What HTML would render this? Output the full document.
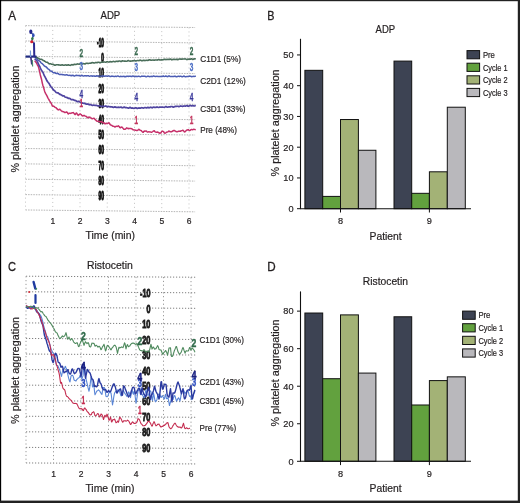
<!DOCTYPE html>
<html><head><meta charset="utf-8"><style>
html,body{margin:0;padding:0;background:#fff;width:520px;height:503px;overflow:hidden}
svg{display:block;will-change:transform;font-family:"Liberation Sans", sans-serif}
</style></head><body>
<svg width="520" height="503" viewBox="0 0 520 503" font-family='"Liberation Sans", sans-serif'>
<rect x="0" y="0" width="520" height="503" fill="#fff"/>
<text x="8.30" y="19.70" font-size="12.9" textLength="7.80" lengthAdjust="spacingAndGlyphs" fill="#231f20" stroke="#231f20" stroke-width="0.3">A</text>
<text x="267.30" y="19.70" font-size="12.9" textLength="7.20" lengthAdjust="spacingAndGlyphs" fill="#231f20" stroke="#231f20" stroke-width="0.3">B</text>
<text x="7.90" y="270.70" font-size="12.9" textLength="8.00" lengthAdjust="spacingAndGlyphs" fill="#231f20" stroke="#231f20" stroke-width="0.3">C</text>
<text x="267.20" y="270.60" font-size="12.4" textLength="8.40" lengthAdjust="spacingAndGlyphs" fill="#231f20" stroke="#231f20" stroke-width="0.3">D</text>
<text x="100.50" y="18.50" font-size="10.5" textLength="19.80" lengthAdjust="spacingAndGlyphs" fill="#231f20" stroke="#231f20" stroke-width="0.2">ADP</text>
<text x="375.60" y="32.50" font-size="10.5" textLength="19.60" lengthAdjust="spacingAndGlyphs" fill="#231f20" stroke="#231f20" stroke-width="0.2">ADP</text>
<text x="86.90" y="268.80" font-size="10.5" textLength="45.90" lengthAdjust="spacingAndGlyphs" fill="#231f20" stroke="#231f20" stroke-width="0.2">Ristocetin</text>
<text x="362.80" y="284.90" font-size="10.5" textLength="45.20" lengthAdjust="spacingAndGlyphs" fill="#231f20" stroke="#231f20" stroke-width="0.2">Ristocetin</text>
<line x1="25.50" y1="25.64" x2="195.10" y2="27.51" stroke="#b6b6b6" stroke-width="1.0" stroke-dasharray="1.5 1.1"/>
<line x1="25.50" y1="41.00" x2="195.10" y2="42.87" stroke="#b6b6b6" stroke-width="1.0" stroke-dasharray="1.5 1.1"/>
<line x1="25.50" y1="56.36" x2="195.10" y2="58.23" stroke="#b6b6b6" stroke-width="1.0" stroke-dasharray="1.5 1.1"/>
<line x1="25.50" y1="71.72" x2="195.10" y2="73.59" stroke="#b6b6b6" stroke-width="1.0" stroke-dasharray="1.5 1.1"/>
<line x1="25.50" y1="87.08" x2="195.10" y2="88.95" stroke="#b6b6b6" stroke-width="1.0" stroke-dasharray="1.5 1.1"/>
<line x1="25.50" y1="102.44" x2="195.10" y2="104.31" stroke="#b6b6b6" stroke-width="1.0" stroke-dasharray="1.5 1.1"/>
<line x1="25.50" y1="117.80" x2="195.10" y2="119.67" stroke="#b6b6b6" stroke-width="1.0" stroke-dasharray="1.5 1.1"/>
<line x1="25.50" y1="133.16" x2="195.10" y2="135.03" stroke="#b6b6b6" stroke-width="1.0" stroke-dasharray="1.5 1.1"/>
<line x1="25.50" y1="148.52" x2="195.10" y2="150.39" stroke="#b6b6b6" stroke-width="1.0" stroke-dasharray="1.5 1.1"/>
<line x1="25.50" y1="163.88" x2="195.10" y2="165.75" stroke="#b6b6b6" stroke-width="1.0" stroke-dasharray="1.5 1.1"/>
<line x1="25.50" y1="179.24" x2="195.10" y2="181.11" stroke="#b6b6b6" stroke-width="1.0" stroke-dasharray="1.5 1.1"/>
<line x1="25.50" y1="194.60" x2="195.10" y2="196.47" stroke="#b6b6b6" stroke-width="1.0" stroke-dasharray="1.5 1.1"/>
<line x1="25.50" y1="209.96" x2="195.10" y2="211.83" stroke="#b6b6b6" stroke-width="1.0" stroke-dasharray="1.5 1.1"/>
<line x1="25.50" y1="25.64" x2="25.50" y2="209.96" stroke="#c2c2c2" stroke-width="1.0" stroke-dasharray="1 3"/>
<line x1="52.75" y1="25.94" x2="52.75" y2="210.26" stroke="#c2c2c2" stroke-width="1.0" stroke-dasharray="1 3"/>
<line x1="80.00" y1="26.24" x2="80.00" y2="210.56" stroke="#c2c2c2" stroke-width="1.0" stroke-dasharray="1 3"/>
<line x1="107.25" y1="26.54" x2="107.25" y2="210.86" stroke="#c2c2c2" stroke-width="1.0" stroke-dasharray="1 3"/>
<line x1="134.50" y1="26.84" x2="134.50" y2="211.16" stroke="#c2c2c2" stroke-width="1.0" stroke-dasharray="1 3"/>
<line x1="161.75" y1="27.14" x2="161.75" y2="211.46" stroke="#c2c2c2" stroke-width="1.0" stroke-dasharray="1 3"/>
<line x1="189.00" y1="27.44" x2="189.00" y2="211.76" stroke="#c2c2c2" stroke-width="1.0" stroke-dasharray="1 3"/>
<text x="103.90" y="46.71" font-size="12.0" font-weight="bold" text-anchor="end" textLength="6.80" lengthAdjust="spacingAndGlyphs" fill="#111" stroke="#111" stroke-width="1.2">-10</text>
<text x="103.90" y="62.07" font-size="12.0" font-weight="bold" text-anchor="end" textLength="2.60" lengthAdjust="spacingAndGlyphs" fill="#111" stroke="#111" stroke-width="1.2">0</text>
<text x="103.90" y="77.43" font-size="12.0" font-weight="bold" text-anchor="end" textLength="5.40" lengthAdjust="spacingAndGlyphs" fill="#111" stroke="#111" stroke-width="1.2">10</text>
<text x="103.90" y="92.79" font-size="12.0" font-weight="bold" text-anchor="end" textLength="5.40" lengthAdjust="spacingAndGlyphs" fill="#111" stroke="#111" stroke-width="1.2">20</text>
<text x="103.90" y="108.15" font-size="12.0" font-weight="bold" text-anchor="end" textLength="5.40" lengthAdjust="spacingAndGlyphs" fill="#111" stroke="#111" stroke-width="1.2">30</text>
<text x="103.90" y="123.51" font-size="12.0" font-weight="bold" text-anchor="end" textLength="5.40" lengthAdjust="spacingAndGlyphs" fill="#111" stroke="#111" stroke-width="1.2">40</text>
<text x="103.90" y="138.87" font-size="12.0" font-weight="bold" text-anchor="end" textLength="5.40" lengthAdjust="spacingAndGlyphs" fill="#111" stroke="#111" stroke-width="1.2">50</text>
<text x="103.90" y="154.23" font-size="12.0" font-weight="bold" text-anchor="end" textLength="5.40" lengthAdjust="spacingAndGlyphs" fill="#111" stroke="#111" stroke-width="1.2">60</text>
<text x="103.90" y="169.59" font-size="12.0" font-weight="bold" text-anchor="end" textLength="5.40" lengthAdjust="spacingAndGlyphs" fill="#111" stroke="#111" stroke-width="1.2">70</text>
<text x="103.90" y="184.95" font-size="12.0" font-weight="bold" text-anchor="end" textLength="5.40" lengthAdjust="spacingAndGlyphs" fill="#111" stroke="#111" stroke-width="1.2">80</text>
<text x="103.90" y="200.31" font-size="12.0" font-weight="bold" text-anchor="end" textLength="5.40" lengthAdjust="spacingAndGlyphs" fill="#111" stroke="#111" stroke-width="1.2">90</text>
<line x1="26.00" y1="276.22" x2="195.50" y2="277.23" stroke="#808080" stroke-width="1.0" stroke-dasharray="1.2 1.8"/>
<line x1="26.00" y1="291.78" x2="195.50" y2="292.79" stroke="#808080" stroke-width="1.0" stroke-dasharray="1.2 1.8"/>
<line x1="26.00" y1="307.34" x2="195.50" y2="308.35" stroke="#808080" stroke-width="1.0" stroke-dasharray="1.2 1.8"/>
<line x1="26.00" y1="322.90" x2="195.50" y2="323.91" stroke="#808080" stroke-width="1.0" stroke-dasharray="1.2 1.8"/>
<line x1="26.00" y1="338.46" x2="195.50" y2="339.47" stroke="#808080" stroke-width="1.0" stroke-dasharray="1.2 1.8"/>
<line x1="26.00" y1="354.02" x2="195.50" y2="355.03" stroke="#808080" stroke-width="1.0" stroke-dasharray="1.2 1.8"/>
<line x1="26.00" y1="369.58" x2="195.50" y2="370.59" stroke="#808080" stroke-width="1.0" stroke-dasharray="1.2 1.8"/>
<line x1="26.00" y1="385.14" x2="195.50" y2="386.15" stroke="#808080" stroke-width="1.0" stroke-dasharray="1.2 1.8"/>
<line x1="26.00" y1="400.70" x2="195.50" y2="401.71" stroke="#808080" stroke-width="1.0" stroke-dasharray="1.2 1.8"/>
<line x1="26.00" y1="416.26" x2="195.50" y2="417.27" stroke="#808080" stroke-width="1.0" stroke-dasharray="1.2 1.8"/>
<line x1="26.00" y1="431.82" x2="195.50" y2="432.83" stroke="#808080" stroke-width="1.0" stroke-dasharray="1.2 1.8"/>
<line x1="26.00" y1="447.38" x2="195.50" y2="448.39" stroke="#808080" stroke-width="1.0" stroke-dasharray="1.2 1.8"/>
<line x1="26.00" y1="462.94" x2="195.50" y2="463.95" stroke="#808080" stroke-width="1.0" stroke-dasharray="1.2 1.8"/>
<line x1="26.00" y1="276.22" x2="26.00" y2="462.94" stroke="#9a9a9a" stroke-width="1.0" stroke-dasharray="1.2 2.6"/>
<line x1="53.50" y1="276.38" x2="53.50" y2="463.10" stroke="#9a9a9a" stroke-width="1.0" stroke-dasharray="1.2 2.6"/>
<line x1="81.00" y1="276.55" x2="81.00" y2="463.27" stroke="#9a9a9a" stroke-width="1.0" stroke-dasharray="1.2 2.6"/>
<line x1="108.50" y1="276.71" x2="108.50" y2="463.43" stroke="#9a9a9a" stroke-width="1.0" stroke-dasharray="1.2 2.6"/>
<line x1="136.00" y1="276.88" x2="136.00" y2="463.60" stroke="#9a9a9a" stroke-width="1.0" stroke-dasharray="1.2 2.6"/>
<line x1="163.50" y1="277.04" x2="163.50" y2="463.76" stroke="#9a9a9a" stroke-width="1.0" stroke-dasharray="1.2 2.6"/>
<line x1="191.00" y1="277.21" x2="191.00" y2="463.93" stroke="#9a9a9a" stroke-width="1.0" stroke-dasharray="1.2 2.6"/>
<text x="150.40" y="297.47" font-size="10.8" font-weight="bold" text-anchor="end" textLength="10.40" lengthAdjust="spacingAndGlyphs" fill="#1a1a1a" stroke="#1a1a1a" stroke-width="0.9">-10</text>
<text x="150.40" y="312.89" font-size="10.8" font-weight="bold" text-anchor="end" textLength="4.00" lengthAdjust="spacingAndGlyphs" fill="#1a1a1a" stroke="#1a1a1a" stroke-width="0.9">0</text>
<text x="150.40" y="328.31" font-size="10.8" font-weight="bold" text-anchor="end" textLength="8.20" lengthAdjust="spacingAndGlyphs" fill="#1a1a1a" stroke="#1a1a1a" stroke-width="0.9">10</text>
<text x="150.40" y="343.73" font-size="10.8" font-weight="bold" text-anchor="end" textLength="8.20" lengthAdjust="spacingAndGlyphs" fill="#1a1a1a" stroke="#1a1a1a" stroke-width="0.9">20</text>
<text x="150.40" y="359.15" font-size="10.8" font-weight="bold" text-anchor="end" textLength="8.20" lengthAdjust="spacingAndGlyphs" fill="#1a1a1a" stroke="#1a1a1a" stroke-width="0.9">30</text>
<text x="150.40" y="374.57" font-size="10.8" font-weight="bold" text-anchor="end" textLength="8.20" lengthAdjust="spacingAndGlyphs" fill="#1a1a1a" stroke="#1a1a1a" stroke-width="0.9">40</text>
<text x="150.40" y="389.99" font-size="10.8" font-weight="bold" text-anchor="end" textLength="8.20" lengthAdjust="spacingAndGlyphs" fill="#1a1a1a" stroke="#1a1a1a" stroke-width="0.9">50</text>
<text x="150.40" y="405.41" font-size="10.8" font-weight="bold" text-anchor="end" textLength="8.20" lengthAdjust="spacingAndGlyphs" fill="#1a1a1a" stroke="#1a1a1a" stroke-width="0.9">60</text>
<text x="150.40" y="420.83" font-size="10.8" font-weight="bold" text-anchor="end" textLength="8.20" lengthAdjust="spacingAndGlyphs" fill="#1a1a1a" stroke="#1a1a1a" stroke-width="0.9">70</text>
<text x="150.40" y="436.25" font-size="10.8" font-weight="bold" text-anchor="end" textLength="8.20" lengthAdjust="spacingAndGlyphs" fill="#1a1a1a" stroke="#1a1a1a" stroke-width="0.9">80</text>
<text x="150.40" y="451.67" font-size="10.8" font-weight="bold" text-anchor="end" textLength="8.20" lengthAdjust="spacingAndGlyphs" fill="#1a1a1a" stroke="#1a1a1a" stroke-width="0.9">90</text>
<path d="M34.80,60.55 L35.30,61.47 L35.80,62.09 L36.30,62.70 L36.80,63.51 L37.30,64.75 L37.80,65.76 L38.30,66.31 L38.80,68.09 L39.30,70.21 L39.80,72.41 L40.30,74.90 L40.80,76.69 L41.30,78.45 L41.80,80.66 L42.30,83.09 L42.80,85.16 L43.30,86.60 L43.80,88.16 L44.30,90.13 L44.80,91.75 L45.30,92.94 L45.80,93.91 L46.30,94.65 L46.80,95.53 L47.30,96.55 L47.80,97.61 L48.30,98.54 L48.80,99.33 L49.30,100.42 L49.80,101.19 L50.30,101.91 L50.80,102.64 L51.30,103.53 L51.80,104.54 L52.30,105.90 L52.80,106.21 L53.30,106.09 L53.80,106.28 L54.30,106.67 L54.80,107.14 L55.30,107.47 L55.80,107.64 L56.30,107.94 L56.80,108.61 L57.30,109.09 L57.80,109.67 L58.30,109.91 L58.80,109.72 L59.30,109.36 L59.80,109.17 L60.30,109.81 L60.80,110.32 L61.30,110.84 L61.80,111.10 L62.30,111.62 L62.80,111.58 L63.30,111.66 L63.80,111.83 L64.30,112.19 L64.80,112.54 L65.30,112.42 L65.80,112.32 L66.30,112.00 L66.80,111.88 L67.30,112.44 L67.80,113.33 L68.30,114.01 L68.80,113.39 L69.30,113.31 L69.80,113.29 L70.30,113.40 L70.80,113.25 L71.30,113.02 L71.80,112.88 L72.30,112.87 L72.80,112.87 L73.30,112.55 L73.80,113.12 L74.30,113.72 L74.80,114.44 L75.30,114.48 L75.80,113.70 L76.30,113.04 L76.80,113.29 L77.30,114.07 L77.80,115.01 L78.30,115.38 L78.80,114.81 L79.30,114.50 L79.80,114.04 L80.30,113.88 L80.80,114.28 L81.30,114.62 L81.80,115.43 L82.30,115.77 L82.80,115.92 L83.30,115.81 L83.80,115.46 L84.30,115.47 L84.80,115.82 L85.30,116.15 L85.80,116.30 L86.30,116.49 L86.80,116.92 L87.30,117.48 L87.80,117.81 L88.30,117.53 L88.80,117.09 L89.30,117.25 L89.80,117.10 L90.30,117.61 L90.80,117.84 L91.30,118.13 L91.80,118.59 L92.30,118.79 L92.80,118.65 L93.30,118.39 L93.80,118.22 L94.30,118.50 L94.80,119.16 L95.30,119.75 L95.80,120.04 L96.30,120.63 L96.80,121.09 L97.30,121.26 L97.80,121.38 L98.30,121.23 L98.80,121.28 L99.30,121.50 L99.80,121.78 L100.30,121.83 L100.80,121.53 L101.30,121.49 L101.80,121.91 L102.30,122.33 L102.80,122.78 L103.30,122.78 L103.80,122.72 L104.30,123.09 L104.80,123.67 L105.30,123.79 L105.80,123.48 L106.30,123.30 L106.80,123.42 L107.30,123.51 L107.80,123.43 L108.30,123.17 L108.80,122.65 L109.30,123.29 L109.80,123.99 L110.30,124.74 L110.80,125.06 L111.30,125.16 L111.80,125.44 L112.30,125.79 L112.80,126.23 L113.30,126.16 L113.80,126.39 L114.30,126.56 L114.80,127.02 L115.30,126.74 L115.80,126.52 L116.30,126.35 L116.80,126.36 L117.30,126.45 L117.80,126.11 L118.30,125.75 L118.80,126.23 L119.30,126.79 L119.80,127.48 L120.30,127.84 L120.80,127.38 L121.30,127.11 L121.80,126.97 L122.30,127.38 L122.80,128.06 L123.30,128.63 L123.80,129.23 L124.30,129.20 L124.80,129.20 L125.30,129.23 L125.80,128.86 L126.30,128.24 L126.80,127.82 L127.30,128.14 L127.80,128.43 L128.30,128.75 L128.80,128.44 L129.30,128.43 L129.80,128.38 L130.30,128.47 L130.80,128.60 L131.30,128.60 L131.80,128.74 L132.30,129.28 L132.80,129.55 L133.30,129.86 L133.80,129.90 L134.30,129.88 L134.80,129.89 L135.30,130.15 L135.80,130.20 L136.30,130.39 L136.80,130.45 L137.30,130.40 L137.80,130.31 L138.30,129.82 L138.80,129.34 L139.30,129.53 L139.80,130.05 L140.30,130.33 L140.80,130.42 L141.30,130.59 L141.80,131.20 L142.30,131.70 L142.80,132.17 L143.30,132.23 L143.80,131.54 L144.30,131.01 L144.80,131.17 L145.30,131.13 L145.80,130.95 L146.30,130.88 L146.80,131.56 L147.30,131.90 L147.80,132.13 L148.30,131.86 L148.80,131.67 L149.30,131.83 L149.80,131.90 L150.30,131.95 L150.80,132.12 L151.30,132.14 L151.80,132.14 L152.30,131.88 L152.80,131.51 L153.30,131.09 L153.80,130.82 L154.30,130.82 L154.80,131.46 L155.30,131.92 L155.80,132.09 L156.30,132.19 L156.80,132.27 L157.30,132.08 L157.80,132.07 L158.30,132.38 L158.80,132.76 L159.30,133.04 L159.80,133.21 L160.30,133.08 L160.80,133.03 L161.30,132.07 L161.80,131.30 L162.30,131.10 L162.80,131.28 L163.30,131.39 L163.80,132.00 L164.30,132.85 L164.80,133.26 L165.30,133.09 L165.80,132.79 L166.30,132.36 L166.80,132.09 L167.30,132.05 L167.80,131.83 L168.30,131.53 L168.80,131.11 L169.30,131.19 L169.80,131.51 L170.30,131.75 L170.80,131.84 L171.30,131.87 L171.80,131.52 L172.30,131.26 L172.80,130.98 L173.30,130.80 L173.80,130.46 L174.30,130.48 L174.80,130.71 L175.30,131.19 L175.80,131.45 L176.30,131.55 L176.80,131.80 L177.30,131.71 L177.80,131.61 L178.30,131.34 L178.80,131.22 L179.30,131.11 L179.80,131.26 L180.30,131.29 L180.80,131.04 L181.30,130.77 L181.80,130.62 L182.30,130.51 L182.80,130.30 L183.30,130.45 L183.80,131.12 L184.30,131.80 L184.80,131.89 L185.30,131.59 L185.80,130.91 L186.30,130.41 L186.80,130.09 L187.30,130.10 L187.80,129.78 L188.30,129.70 L188.80,130.09 L189.30,130.41 L189.80,130.40 L190.30,130.29 L190.80,129.78 L191.30,129.61 L191.80,129.56 L192.30,129.64 L192.80,129.66 L193.30,129.42 L193.80,129.26 L194.30,129.37 L194.80,129.52 L195.30,129.63 L195.80,129.52" fill="none" stroke="#c6306a" stroke-width="1.5" stroke-linejoin="round" opacity="1"/>
<path d="M34.80,58.70 L35.30,59.43 L35.80,59.65 L36.30,60.06 L36.80,60.48 L37.30,61.55 L37.80,62.53 L38.30,63.69 L38.80,64.74 L39.30,65.71 L39.80,66.53 L40.30,67.75 L40.80,68.87 L41.30,69.92 L41.80,70.67 L42.30,71.35 L42.80,72.18 L43.30,73.23 L43.80,74.46 L44.30,75.65 L44.80,76.52 L45.30,77.31 L45.80,78.50 L46.30,79.44 L46.80,80.54 L47.30,81.40 L47.80,81.96 L48.30,82.54 L48.80,83.06 L49.30,83.91 L49.80,85.01 L50.30,85.75 L50.80,86.47 L51.30,87.11 L51.80,87.61 L52.30,88.27 L52.80,89.11 L53.30,89.72 L53.80,90.23 L54.30,90.58 L54.80,90.89 L55.30,91.46 L55.80,92.07 L56.30,92.54 L56.80,92.69 L57.30,92.80 L57.80,92.73 L58.30,93.07 L58.80,93.51 L59.30,93.91 L59.80,94.44 L60.30,94.39 L60.80,94.62 L61.30,94.92 L61.80,95.28 L62.30,95.65 L62.80,95.87 L63.30,95.85 L63.80,95.83 L64.30,96.14 L64.80,96.79 L65.30,97.24 L65.80,97.27 L66.30,97.39 L66.80,97.54 L67.30,97.63 L67.80,97.87 L68.30,98.42 L68.80,98.37 L69.30,98.33 L69.80,98.41 L70.30,98.72 L70.80,99.13 L71.30,99.71 L71.80,99.73 L72.30,99.61 L72.80,99.47 L73.30,99.72 L73.80,99.99 L74.30,100.31 L74.80,100.41 L75.30,100.45 L75.80,100.59 L76.30,101.03 L76.80,101.43 L77.30,101.62 L77.80,101.61 L78.30,101.41 L78.80,101.33 L79.30,101.58 L79.80,101.87 L80.30,102.35 L80.80,102.50 L81.30,102.58 L81.80,102.67 L82.30,102.89 L82.80,103.24 L83.30,103.24 L83.80,103.39 L84.30,103.20 L84.80,103.38 L85.30,103.63 L85.80,104.03 L86.30,104.14 L86.80,104.15 L87.30,104.12 L87.80,103.92 L88.30,104.20 L88.80,104.48 L89.30,104.83 L89.80,104.56 L90.30,104.62 L90.80,104.79 L91.30,104.78 L91.80,105.23 L92.30,105.34 L92.80,105.30 L93.30,105.20 L93.80,105.02 L94.30,105.21 L94.80,105.32 L95.30,105.34 L95.80,105.31 L96.30,105.25 L96.80,105.42 L97.30,105.65 L97.80,105.91 L98.30,105.98 L98.80,105.80 L99.30,105.62 L99.80,105.73 L100.30,105.96 L100.80,106.36 L101.30,106.48 L101.80,106.49 L102.30,106.33 L102.80,106.18 L103.30,106.35 L103.80,106.39 L104.30,106.36 L104.80,106.28 L105.30,106.18 L105.80,105.96 L106.30,106.24 L106.80,106.65 L107.30,106.85 L107.80,106.66 L108.30,106.51 L108.80,106.41 L109.30,106.74 L109.80,106.75 L110.30,106.99 L110.80,106.72 L111.30,106.94 L111.80,106.94 L112.30,106.93 L112.80,107.26 L113.30,107.42 L113.80,107.37 L114.30,107.07 L114.80,106.93 L115.30,106.97 L115.80,107.14 L116.30,107.40 L116.80,107.29 L117.30,107.31 L117.80,107.36 L118.30,107.30 L118.80,107.18 L119.30,107.39 L119.80,107.24 L120.30,107.28 L120.80,107.12 L121.30,107.19 L121.80,107.63 L122.30,107.78 L122.80,107.68 L123.30,107.42 L123.80,107.17 L124.30,107.05 L124.80,107.38 L125.30,107.61 L125.80,107.49 L126.30,107.53 L126.80,107.68 L127.30,107.73 L127.80,108.02 L128.30,108.11 L128.80,108.15 L129.30,107.77 L129.80,107.43 L130.30,107.46 L130.80,107.87 L131.30,108.09 L131.80,108.22 L132.30,107.93 L132.80,107.98 L133.30,108.24 L133.80,108.28 L134.30,108.28 L134.80,108.15 L135.30,107.87 L135.80,107.71 L136.30,107.84 L136.80,108.17 L137.30,108.51 L137.80,108.33 L138.30,108.10 L138.80,107.93 L139.30,107.90 L139.80,108.13 L140.30,108.14 L140.80,108.10 L141.30,107.75 L141.80,107.72 L142.30,107.76 L142.80,108.00 L143.30,108.05 L143.80,107.93 L144.30,107.78 L144.80,107.59 L145.30,107.60 L145.80,107.77 L146.30,107.85 L146.80,107.84 L147.30,107.51 L147.80,107.37 L148.30,107.63 L148.80,107.84 L149.30,107.65 L149.80,107.58 L150.30,107.38 L150.80,107.15 L151.30,107.38 L151.80,107.64 L152.30,107.83 L152.80,107.50 L153.30,107.28 L153.80,107.11 L154.30,107.30 L154.80,107.34 L155.30,107.50 L155.80,107.43 L156.30,107.15 L156.80,107.02 L157.30,107.12 L157.80,107.20 L158.30,107.39 L158.80,107.52 L159.30,107.30 L159.80,106.98 L160.30,107.12 L160.80,107.27 L161.30,107.20 L161.80,107.03 L162.30,107.09 L162.80,107.14 L163.30,107.27 L163.80,107.27 L164.30,107.39 L164.80,107.27 L165.30,106.75 L165.80,106.54 L166.30,106.60 L166.80,106.91 L167.30,107.23 L167.80,107.17 L168.30,107.03 L168.80,106.88 L169.30,106.83 L169.80,106.95 L170.30,106.84 L170.80,106.64 L171.30,106.51 L171.80,106.52 L172.30,106.68 L172.80,106.95 L173.30,107.14 L173.80,106.89 L174.30,106.80 L174.80,106.58 L175.30,106.42 L175.80,106.36 L176.30,106.30 L176.80,106.31 L177.30,106.26 L177.80,106.23 L178.30,106.43 L178.80,106.56 L179.30,106.53 L179.80,106.26 L180.30,106.16 L180.80,105.96 L181.30,106.19 L181.80,106.25 L182.30,106.32 L182.80,106.34 L183.30,106.08 L183.80,106.16 L184.30,105.98 L184.80,105.97 L185.30,106.06 L185.80,106.09 L186.30,105.74 L186.80,105.63 L187.30,105.56 L187.80,106.07 L188.30,106.15 L188.80,106.17 L189.30,105.88 L189.80,105.55 L190.30,105.46 L190.80,105.57 L191.30,105.78 L191.80,105.81 L192.30,105.83 L192.80,105.58 L193.30,105.78 L193.80,105.99 L194.30,105.98 L194.80,105.85 L195.30,105.50 L195.80,105.37" fill="none" stroke="#4f44a0" stroke-width="1.7" stroke-linejoin="round" opacity="1"/>
<path d="M34.80,57.49 L35.30,57.81 L35.80,58.05 L36.30,58.02 L36.80,58.28 L37.30,58.84 L37.80,59.66 L38.30,60.31 L38.80,60.74 L39.30,60.91 L39.80,61.23 L40.30,61.74 L40.80,62.44 L41.30,63.01 L41.80,63.34 L42.30,63.72 L42.80,64.21 L43.30,64.74 L43.80,65.35 L44.30,65.88 L44.80,66.30 L45.30,66.50 L45.80,66.62 L46.30,67.09 L46.80,67.62 L47.30,68.13 L47.80,68.70 L48.30,69.06 L48.80,69.31 L49.30,69.81 L49.80,70.42 L50.30,70.82 L50.80,71.07 L51.30,71.25 L51.80,71.26 L52.30,71.71 L52.80,72.29 L53.30,72.73 L53.80,72.77 L54.30,72.84 L54.80,72.77 L55.30,72.99 L55.80,73.27 L56.30,73.45 L56.80,73.39 L57.30,73.32 L57.80,73.49 L58.30,73.66 L58.80,74.09 L59.30,74.41 L59.80,74.42 L60.30,74.53 L60.80,74.37 L61.30,74.60 L61.80,74.54 L62.30,74.54 L62.80,74.77 L63.30,74.79 L63.80,74.75 L64.30,74.90 L64.80,74.95 L65.30,75.08 L65.80,74.96 L66.30,74.81 L66.80,74.83 L67.30,74.93 L67.80,75.22 L68.30,75.37 L68.80,75.39 L69.30,75.34 L69.80,75.26 L70.30,75.46 L70.80,75.49 L71.30,75.74 L71.80,75.50 L72.30,75.42 L72.80,75.25 L73.30,75.54 L73.80,75.76 L74.30,75.94 L74.80,75.93 L75.30,75.63 L75.80,75.37 L76.30,75.22 L76.80,75.55 L77.30,75.60 L77.80,75.55 L78.30,75.48 L78.80,75.65 L79.30,75.58 L79.80,75.84 L80.30,75.92 L80.80,75.88 L81.30,75.48 L81.80,75.33 L82.30,75.50 L82.80,75.84 L83.30,76.11 L83.80,75.96 L84.30,75.84 L84.80,75.74 L85.30,75.68 L85.80,75.73 L86.30,75.94 L86.80,75.86 L87.30,75.65 L87.80,75.66 L88.30,75.65 L88.80,75.97 L89.30,76.15 L89.80,76.13 L90.30,76.00 L90.80,75.85 L91.30,75.86 L91.80,75.98 L92.30,76.21 L92.80,76.04 L93.30,75.96 L93.80,75.92 L94.30,75.97 L94.80,76.26 L95.30,76.27 L95.80,76.29 L96.30,75.95 L96.80,75.73 L97.30,75.80 L97.80,76.05 L98.30,76.25 L98.80,76.29 L99.30,76.11 L99.80,75.95 L100.30,76.10 L100.80,76.28 L101.30,76.24 L101.80,76.22 L102.30,75.99 L102.80,75.76 L103.30,75.91 L103.80,76.04 L104.30,76.20 L104.80,76.30 L105.30,76.04 L105.80,75.99 L106.30,75.92 L106.80,76.17 L107.30,76.19 L107.80,76.15 L108.30,75.88 L108.80,75.86 L109.30,76.13 L109.80,76.42 L110.30,76.40 L110.80,76.47 L111.30,76.33 L111.80,76.09 L112.30,76.22 L112.80,76.21 L113.30,76.34 L113.80,76.44 L114.30,76.42 L114.80,76.43 L115.30,76.35 L115.80,76.37 L116.30,76.54 L116.80,76.31 L117.30,76.12 L117.80,75.89 L118.30,76.13 L118.80,76.43 L119.30,76.64 L119.80,76.62 L120.30,76.48 L120.80,76.33 L121.30,76.40 L121.80,76.52 L122.30,76.59 L122.80,76.41 L123.30,76.39 L123.80,76.26 L124.30,76.46 L124.80,76.75 L125.30,76.74 L125.80,76.52 L126.30,76.48 L126.80,76.25 L127.30,76.25 L127.80,76.34 L128.30,76.46 L128.80,76.31 L129.30,76.22 L129.80,76.17 L130.30,76.32 L130.80,76.34 L131.30,76.61 L131.80,76.55 L132.30,76.15 L132.80,75.97 L133.30,76.07 L133.80,76.36 L134.30,76.52 L134.80,76.66 L135.30,76.50 L135.80,76.30 L136.30,76.31 L136.80,76.54 L137.30,76.52 L137.80,76.49 L138.30,76.34 L138.80,76.24 L139.30,76.38 L139.80,76.55 L140.30,76.70 L140.80,76.61 L141.30,76.38 L141.80,76.11 L142.30,76.13 L142.80,76.20 L143.30,76.22 L143.80,76.27 L144.30,76.22 L144.80,76.16 L145.30,76.43 L145.80,76.71 L146.30,76.87 L146.80,76.65 L147.30,76.25 L147.80,76.16 L148.30,76.20 L148.80,76.42 L149.30,76.57 L149.80,76.65 L150.30,76.46 L150.80,76.43 L151.30,76.39 L151.80,76.34 L152.30,76.44 L152.80,76.51 L153.30,76.11 L153.80,76.12 L154.30,76.13 L154.80,76.35 L155.30,76.57 L155.80,76.61 L156.30,76.37 L156.80,76.28 L157.30,76.35 L157.80,76.52 L158.30,76.47 L158.80,76.53 L159.30,76.48 L159.80,76.54 L160.30,76.40 L160.80,76.62 L161.30,76.57 L161.80,76.59 L162.30,76.42 L162.80,76.12 L163.30,76.01 L163.80,76.25 L164.30,76.46 L164.80,76.37 L165.30,76.27 L165.80,76.03 L166.30,76.17 L166.80,76.46 L167.30,76.59 L167.80,76.63 L168.30,76.23 L168.80,75.89 L169.30,76.07 L169.80,76.27 L170.30,76.53 L170.80,76.62 L171.30,76.53 L171.80,76.52 L172.30,76.60 L172.80,76.47 L173.30,76.51 L173.80,76.58 L174.30,76.29 L174.80,76.26 L175.30,76.33 L175.80,76.51 L176.30,76.82 L176.80,76.82 L177.30,76.52 L177.80,76.39 L178.30,76.21 L178.80,76.28 L179.30,76.49 L179.80,76.44 L180.30,76.21 L180.80,76.25 L181.30,76.40 L181.80,76.71 L182.30,76.84 L182.80,76.64 L183.30,76.31 L183.80,76.12 L184.30,76.14 L184.80,76.47 L185.30,76.74 L185.80,76.78 L186.30,76.60 L186.80,76.43 L187.30,76.53 L187.80,76.57 L188.30,76.62 L188.80,76.32 L189.30,76.11 L189.80,76.17 L190.30,76.16 L190.80,76.30 L191.30,76.53 L191.80,76.71 L192.30,76.63 L192.80,76.37 L193.30,76.29 L193.80,76.39 L194.30,76.38 L194.80,76.35 L195.30,76.20 L195.80,76.04" fill="none" stroke="#4b5cb4" stroke-width="1.5" stroke-linejoin="round" opacity="1"/>
<path d="M34.80,56.96 L35.30,57.04 L35.80,57.02 L36.30,57.16 L36.80,57.48 L37.30,57.65 L37.80,57.91 L38.30,58.13 L38.80,58.58 L39.30,58.80 L39.80,59.24 L40.30,59.33 L40.80,59.23 L41.30,59.18 L41.80,59.40 L42.30,59.78 L42.80,60.19 L43.30,60.55 L43.80,60.71 L44.30,60.81 L44.80,61.31 L45.30,61.49 L45.80,62.01 L46.30,62.18 L46.80,62.25 L47.30,62.22 L47.80,62.66 L48.30,63.08 L48.80,63.58 L49.30,63.86 L49.80,63.75 L50.30,63.67 L50.80,63.86 L51.30,64.21 L51.80,64.27 L52.30,64.33 L52.80,64.41 L53.30,64.41 L53.80,64.79 L54.30,64.97 L54.80,65.27 L55.30,65.13 L55.80,64.97 L56.30,64.81 L56.80,64.77 L57.30,64.71 L57.80,64.77 L58.30,64.86 L58.80,64.91 L59.30,65.00 L59.80,64.93 L60.30,65.27 L60.80,65.32 L61.30,65.09 L61.80,64.89 L62.30,64.77 L62.80,64.97 L63.30,65.20 L63.80,65.20 L64.30,65.28 L64.80,65.11 L65.30,64.94 L65.80,64.84 L66.30,65.11 L66.80,65.17 L67.30,65.12 L67.80,65.06 L68.30,64.81 L68.80,65.05 L69.30,65.31 L69.80,65.31 L70.30,65.38 L70.80,65.07 L71.30,64.88 L71.80,64.54 L72.30,64.72 L72.80,64.89 L73.30,64.87 L73.80,64.55 L74.30,64.31 L74.80,64.27 L75.30,64.42 L75.80,64.57 L76.30,64.26 L76.80,64.17 L77.30,63.96 L77.80,63.92 L78.30,64.11 L78.80,64.27 L79.30,64.13 L79.80,63.98 L80.30,63.75 L80.80,63.76 L81.30,63.79 L81.80,63.91 L82.30,63.87 L82.80,63.57 L83.30,63.54 L83.80,63.69 L84.30,63.75 L84.80,63.97 L85.30,63.88 L85.80,63.52 L86.30,63.28 L86.80,63.22 L87.30,63.24 L87.80,63.45 L88.30,63.47 L88.80,63.37 L89.30,63.18 L89.80,63.26 L90.30,63.14 L90.80,63.21 L91.30,63.07 L91.80,62.81 L92.30,62.60 L92.80,62.72 L93.30,62.81 L93.80,63.05 L94.30,62.98 L94.80,62.93 L95.30,62.61 L95.80,62.51 L96.30,62.55 L96.80,62.71 L97.30,62.67 L97.80,62.28 L98.30,62.22 L98.80,62.24 L99.30,62.43 L99.80,62.66 L100.30,62.69 L100.80,62.47 L101.30,62.34 L101.80,62.07 L102.30,62.19 L102.80,62.14 L103.30,62.20 L103.80,62.09 L104.30,61.99 L104.80,62.07 L105.30,62.18 L105.80,62.22 L106.30,62.06 L106.80,61.82 L107.30,61.63 L107.80,61.82 L108.30,61.92 L108.80,62.09 L109.30,61.90 L109.80,61.87 L110.30,61.53 L110.80,61.67 L111.30,61.90 L111.80,61.80 L112.30,61.71 L112.80,61.63 L113.30,61.36 L113.80,61.44 L114.30,61.62 L114.80,61.72 L115.30,61.64 L115.80,61.52 L116.30,61.24 L116.80,61.30 L117.30,61.33 L117.80,61.52 L118.30,61.40 L118.80,61.10 L119.30,60.96 L119.80,61.10 L120.30,61.29 L120.80,61.51 L121.30,61.55 L121.80,61.08 L122.30,60.71 L122.80,60.86 L123.30,60.98 L123.80,61.03 L124.30,61.22 L124.80,61.09 L125.30,61.10 L125.80,61.17 L126.30,61.27 L126.80,61.18 L127.30,61.06 L127.80,60.77 L128.30,60.57 L128.80,60.76 L129.30,60.90 L129.80,61.12 L130.30,61.15 L130.80,61.25 L131.30,60.93 L131.80,60.95 L132.30,60.89 L132.80,60.91 L133.30,60.84 L133.80,60.63 L134.30,60.57 L134.80,60.79 L135.30,60.84 L135.80,60.99 L136.30,60.88 L136.80,60.67 L137.30,60.53 L137.80,60.49 L138.30,60.54 L138.80,60.67 L139.30,60.50 L139.80,60.20 L140.30,60.16 L140.80,60.31 L141.30,60.64 L141.80,60.75 L142.30,60.66 L142.80,60.45 L143.30,60.21 L143.80,60.20 L144.30,60.37 L144.80,60.60 L145.30,60.57 L145.80,60.53 L146.30,60.24 L146.80,60.22 L147.30,60.19 L147.80,60.47 L148.30,60.27 L148.80,60.03 L149.30,59.79 L149.80,59.86 L150.30,60.00 L150.80,60.16 L151.30,60.20 L151.80,60.17 L152.30,60.10 L152.80,59.95 L153.30,60.02 L153.80,60.19 L154.30,60.26 L154.80,60.03 L155.30,59.98 L155.80,59.92 L156.30,59.94 L156.80,60.07 L157.30,60.10 L157.80,59.83 L158.30,59.62 L158.80,59.60 L159.30,59.74 L159.80,59.95 L160.30,59.94 L160.80,59.91 L161.30,59.91 L161.80,59.87 L162.30,59.86 L162.80,59.80 L163.30,59.68 L163.80,59.47 L164.30,59.27 L164.80,59.49 L165.30,59.41 L165.80,59.64 L166.30,59.52 L166.80,59.56 L167.30,59.38 L167.80,59.48 L168.30,59.41 L168.80,59.49 L169.30,59.45 L169.80,59.18 L170.30,59.04 L170.80,59.19 L171.30,59.60 L171.80,59.85 L172.30,59.67 L172.80,59.56 L173.30,59.32 L173.80,59.23 L174.30,59.52 L174.80,59.54 L175.30,59.45 L175.80,59.45 L176.30,59.25 L176.80,59.22 L177.30,59.55 L177.80,59.74 L178.30,59.42 L178.80,59.28 L179.30,58.97 L179.80,58.97 L180.30,59.08 L180.80,59.08 L181.30,59.20 L181.80,59.14 L182.30,59.08 L182.80,59.06 L183.30,59.07 L183.80,59.07 L184.30,59.04 L184.80,58.92 L185.30,58.91 L185.80,59.14 L186.30,59.38 L186.80,59.60 L187.30,59.40 L187.80,59.35 L188.30,59.21 L188.80,59.09 L189.30,59.02 L189.80,59.29 L190.30,59.21 L190.80,58.95 L191.30,58.80 L191.80,59.05 L192.30,59.20 L192.80,59.37 L193.30,59.23 L193.80,58.99 L194.30,58.81 L194.80,58.88 L195.30,58.89 L195.80,59.11" fill="none" stroke="#4a6e5a" stroke-width="1.6" stroke-linejoin="round" opacity="1"/>
<path d="M25.5,56.6 L36.5,56.6" stroke="#1e2a80" stroke-width="2.2"/>
<path d="M34.0,42.5 L34.3,57" stroke="#2a2a90" stroke-width="2.0"/>
<path d="M30.4,50.5 L30.6,57" stroke="#7a9ad8" stroke-width="1.2"/>
<path d="M30.8,57 L31.8,64.5" stroke="#3a2a80" stroke-width="1.6"/>
<path d="M32.3,60 L32.6,66.5" stroke="#4a8a70" stroke-width="1.2"/>
<path d="M30.8,31.8 L33.3,35.2 L32.4,38.6 L31.8,41.8 L34.0,43" stroke="#3a4aa0" stroke-width="1.2" fill="none"/>
<ellipse cx="30.8" cy="31.8" rx="1.6" ry="2.3" fill="#24288e"/>
<ellipse cx="33.3" cy="35.2" rx="1.3" ry="2.0" fill="#3452b8"/>
<ellipse cx="32.4" cy="38.6" rx="1.2" ry="1.7" fill="#2f7a48"/>
<ellipse cx="31.8" cy="41.8" rx="1.6" ry="1.5" fill="#d42030"/>
<text x="81.20" y="57.10" font-size="11" font-weight="bold" text-anchor="middle" textLength="3.6" lengthAdjust="spacingAndGlyphs" fill="#3a6a50" stroke="#3a6a50" stroke-width="0.3">2</text>
<text x="81.20" y="69.50" font-size="11" font-weight="bold" text-anchor="middle" textLength="3.6" lengthAdjust="spacingAndGlyphs" fill="#4d6fc6" stroke="#4d6fc6" stroke-width="0.3">3</text>
<text x="81.20" y="97.50" font-size="11" font-weight="bold" text-anchor="middle" textLength="3.6" lengthAdjust="spacingAndGlyphs" fill="#3b3a9c" stroke="#3b3a9c" stroke-width="0.3">4</text>
<text x="81.20" y="106.90" font-size="11" font-weight="bold" text-anchor="middle" textLength="3.6" lengthAdjust="spacingAndGlyphs" fill="#c4365e" stroke="#c4365e" stroke-width="0.3">1</text>
<text x="136.20" y="55.20" font-size="11" font-weight="bold" text-anchor="middle" textLength="3.6" lengthAdjust="spacingAndGlyphs" fill="#3a6a50" stroke="#3a6a50" stroke-width="0.3">2</text>
<text x="136.20" y="70.50" font-size="11" font-weight="bold" text-anchor="middle" textLength="3.6" lengthAdjust="spacingAndGlyphs" fill="#4d6fc6" stroke="#4d6fc6" stroke-width="0.3">3</text>
<text x="136.20" y="101.10" font-size="11" font-weight="bold" text-anchor="middle" textLength="3.6" lengthAdjust="spacingAndGlyphs" fill="#3b3a9c" stroke="#3b3a9c" stroke-width="0.3">4</text>
<text x="136.20" y="124.10" font-size="11" font-weight="bold" text-anchor="middle" textLength="3.6" lengthAdjust="spacingAndGlyphs" fill="#c4365e" stroke="#c4365e" stroke-width="0.3">1</text>
<text x="191.60" y="55.20" font-size="11" font-weight="bold" text-anchor="middle" textLength="3.6" lengthAdjust="spacingAndGlyphs" fill="#3a6a50" stroke="#3a6a50" stroke-width="0.3">2</text>
<text x="191.60" y="70.50" font-size="11" font-weight="bold" text-anchor="middle" textLength="3.6" lengthAdjust="spacingAndGlyphs" fill="#4d6fc6" stroke="#4d6fc6" stroke-width="0.3">3</text>
<text x="191.60" y="101.10" font-size="11" font-weight="bold" text-anchor="middle" textLength="3.6" lengthAdjust="spacingAndGlyphs" fill="#3b3a9c" stroke="#3b3a9c" stroke-width="0.3">4</text>
<text x="191.60" y="124.10" font-size="11" font-weight="bold" text-anchor="middle" textLength="3.6" lengthAdjust="spacingAndGlyphs" fill="#c4365e" stroke="#c4365e" stroke-width="0.3">1</text>
<path d="M26.00,305.18 L26.50,305.75 L27.00,306.39 L27.50,306.93 L28.00,307.58 L28.50,307.68 L29.00,307.81 L29.50,307.23 L30.00,306.49 L30.50,306.31 L31.00,306.41 L31.50,306.70 L32.00,306.66 L32.50,307.17 L33.00,307.24 L33.50,307.51 L34.00,307.82 L34.50,308.28 L35.00,309.26 L35.50,309.31 L36.00,309.52 L36.50,310.11 L37.00,310.24 L37.50,311.24 L38.00,312.73 L38.50,313.37 L39.00,313.64 L39.50,314.20 L40.00,314.63 L40.50,315.27 L41.00,316.11 L41.50,317.30 L42.00,318.90 L42.50,320.60 L43.00,322.73 L43.50,325.19 L44.00,326.88 L44.50,328.70 L45.00,330.30 L45.50,331.76 L46.00,334.26 L46.50,335.92 L47.00,336.12 L47.50,336.37 L48.00,337.82 L48.50,339.59 L49.00,341.45 L49.50,343.24 L50.00,345.10 L50.50,346.93 L51.00,348.81 L51.50,350.21 L52.00,350.93 L52.50,352.31 L53.00,352.97 L53.50,353.71 L54.00,353.82 L54.50,354.75 L55.00,356.75 L55.50,359.95 L56.00,363.62 L56.50,365.52 L57.00,365.50 L57.50,365.64 L58.00,366.01 L58.50,367.33 L59.00,368.31 L59.50,369.16 L60.00,370.92 L60.50,372.84 L61.00,374.58 L61.50,376.47 L62.00,374.21 L62.50,371.27 L63.00,369.40 L63.50,369.91 L64.00,369.58 L64.50,368.59 L65.00,366.91 L65.50,366.35 L66.00,368.00 L66.50,368.78 L67.00,370.91 L67.50,373.24 L68.00,375.41 L68.50,377.57 L69.00,379.39 L69.50,381.17 L70.00,381.80 L70.50,378.96 L71.00,376.34 L71.50,375.49 L72.00,375.25 L72.50,375.36 L73.00,375.86 L73.50,377.47 L74.00,379.89 L74.50,380.38 L75.00,380.51 L75.50,380.96 L76.00,380.93 L76.50,379.89 L77.00,379.28 L77.50,379.01 L78.00,378.24 L78.50,377.93 L79.00,377.72 L79.50,377.07 L80.00,375.33 L80.50,375.76 L81.00,377.21 L81.50,378.33 L82.00,378.51 L82.50,377.09 L83.00,375.87 L83.50,370.68 L84.00,365.96 L84.50,364.92 L85.00,370.00 L85.50,375.43 L86.00,378.98 L86.50,380.84 L87.00,383.06 L87.50,385.23 L88.00,387.39 L88.50,389.33 L89.00,391.25 L89.50,388.82 L90.00,385.49 L90.50,381.62 L91.00,377.26 L91.50,376.51 L92.00,381.77 L92.50,386.89 L93.00,386.46 L93.50,384.76 L94.00,385.90 L94.50,391.48 L95.00,394.80 L95.50,393.72 L96.00,392.79 L96.50,391.51 L97.00,390.94 L97.50,390.74 L98.00,390.32 L98.50,389.90 L99.00,390.41 L99.50,390.80 L100.00,391.60 L100.50,392.38 L101.00,393.24 L101.50,394.15 L102.00,394.32 L102.50,390.92 L103.00,388.06 L103.50,387.46 L104.00,387.49 L104.50,387.80 L105.00,390.18 L105.50,393.18 L106.00,396.34 L106.50,396.47 L107.00,396.67 L107.50,396.40 L108.00,395.80 L108.50,394.02 L109.00,392.47 L109.50,392.36 L110.00,392.36 L110.50,392.75 L111.00,392.72 L111.50,396.46 L112.00,400.89 L112.50,405.03 L113.00,402.12 L113.50,398.74 L114.00,395.58 L114.50,393.28 L115.00,392.26 L115.50,391.58 L116.00,391.73 L116.50,392.28 L117.00,391.90 L117.50,390.64 L118.00,389.58 L118.50,390.75 L119.00,391.06 L119.50,391.25 L120.00,392.76 L120.50,394.28 L121.00,395.71 L121.50,395.81 L122.00,393.85 L122.50,392.21 L123.00,390.83 L123.50,390.59 L124.00,391.73 L124.50,392.80 L125.00,393.65 L125.50,394.19 L126.00,394.86 L126.50,395.73 L127.00,396.56 L127.50,395.16 L128.00,393.86 L128.50,391.88 L129.00,392.13 L129.50,394.14 L130.00,395.92 L130.50,397.70 L131.00,395.07 L131.50,392.38 L132.00,389.66 L132.50,391.38 L133.00,393.50 L133.50,394.29 L134.00,391.57 L134.50,390.92 L135.00,394.97 L135.50,399.04 L136.00,403.25 L136.50,400.88 L137.00,397.56 L137.50,394.17 L138.00,391.07 L138.50,390.33 L139.00,388.93 L139.50,388.05 L140.00,388.12 L140.50,390.95 L141.00,393.34 L141.50,394.14 L142.00,394.07 L142.50,394.68 L143.00,395.97 L143.50,396.67 L144.00,397.90 L144.50,397.61 L145.00,394.37 L145.50,391.61 L146.00,389.63 L146.50,392.24 L147.00,394.38 L147.50,395.08 L148.00,395.18 L148.50,395.24 L149.00,393.78 L149.50,391.84 L150.00,390.54 L150.50,391.16 L151.00,391.93 L151.50,394.25 L152.00,398.09 L152.50,400.67 L153.00,396.97 L153.50,392.99 L154.00,395.46 L154.50,398.22 L155.00,400.79 L155.50,401.84 L156.00,401.17 L156.50,400.43 L157.00,399.43 L157.50,396.87 L158.00,394.43 L158.50,394.20 L159.00,393.99 L159.50,394.25 L160.00,395.14 L160.50,396.23 L161.00,397.36 L161.50,397.26 L162.00,395.90 L162.50,395.65 L163.00,396.83 L163.50,397.73 L164.00,398.77 L164.50,398.86 L165.00,395.98 L165.50,394.29 L166.00,396.25 L166.50,398.65 L167.00,398.63 L167.50,398.26 L168.00,397.55 L168.50,400.11 L169.00,402.91 L169.50,405.55 L170.00,403.72 L170.50,402.03 L171.00,400.10 L171.50,399.17 L172.00,399.79 L172.50,399.87 L173.00,399.59 L173.50,397.57 L174.00,396.40 L174.50,395.55 L175.00,396.02 L175.50,397.82 L176.00,399.33 L176.50,401.16 L177.00,400.42 L177.50,399.20 L178.00,398.66 L178.50,397.70 L179.00,398.49 L179.50,399.69 L180.00,400.92 L180.50,398.73 L181.00,395.36 L181.50,392.29 L182.00,391.72 L182.50,391.19 L183.00,390.17 L183.50,390.05 L184.00,391.29 L184.50,392.01 L185.00,393.57 L185.50,392.96 L186.00,392.29 L186.50,392.08 L187.00,391.37 L187.50,391.11 L188.00,390.92 L188.50,392.58 L189.00,394.63 L189.50,396.19 L190.00,396.49 L190.50,396.10 L191.00,397.79 L191.50,399.68 L192.00,399.46 L192.50,396.98 L193.00,394.86 L193.50,393.88 L194.00,392.53 L194.50,392.21 L195.00,391.18" fill="none" stroke="#5a86d6" stroke-width="1.1" stroke-linejoin="round" opacity="1"/>
<path d="M26.00,306.65 L26.50,307.39 L27.00,307.89 L27.50,308.35 L28.00,308.28 L28.50,307.71 L29.00,307.71 L29.50,307.62 L30.00,307.77 L30.50,308.70 L31.00,308.24 L31.50,307.93 L32.00,307.58 L32.50,307.02 L33.00,306.65 L33.50,306.03 L34.00,305.76 L34.50,306.64 L35.00,307.89 L35.50,308.84 L36.00,310.19 L36.50,311.59 L37.00,312.08 L37.50,312.63 L38.00,312.61 L38.50,313.21 L39.00,313.90 L39.50,315.44 L40.00,316.95 L40.50,318.78 L41.00,320.89 L41.50,322.34 L42.00,323.17 L42.50,324.63 L43.00,325.94 L43.50,329.18 L44.00,332.53 L44.50,335.59 L45.00,336.76 L45.50,338.18 L46.00,339.42 L46.50,341.19 L47.00,343.46 L47.50,344.56 L48.00,346.49 L48.50,348.10 L49.00,349.88 L49.50,350.97 L50.00,351.45 L50.50,351.81 L51.00,353.10 L51.50,355.21 L52.00,359.70 L52.50,361.12 L53.00,362.61 L53.50,361.89 L54.00,359.36 L54.50,356.81 L55.00,354.46 L55.50,353.27 L56.00,353.71 L56.50,354.89 L57.00,355.81 L57.50,358.89 L58.00,361.42 L58.50,362.60 L59.00,362.39 L59.50,362.94 L60.00,363.77 L60.50,365.77 L61.00,367.24 L61.50,366.51 L62.00,366.17 L62.50,366.42 L63.00,368.27 L63.50,370.56 L64.00,372.88 L64.50,372.28 L65.00,372.18 L65.50,371.61 L66.00,371.35 L66.50,371.64 L67.00,370.97 L67.50,369.96 L68.00,369.69 L68.50,371.51 L69.00,373.00 L69.50,373.58 L70.00,373.95 L70.50,373.96 L71.00,372.77 L71.50,370.76 L72.00,369.15 L72.50,368.92 L73.00,370.10 L73.50,371.44 L74.00,372.90 L74.50,373.67 L75.00,373.25 L75.50,372.96 L76.00,372.34 L76.50,371.41 L77.00,370.29 L77.50,369.15 L78.00,368.35 L78.50,368.45 L79.00,368.54 L79.50,369.03 L80.00,371.59 L80.50,373.90 L81.00,376.73 L81.50,374.19 L82.00,369.04 L82.50,364.74 L83.00,364.55 L83.50,364.63 L84.00,364.76 L84.50,367.86 L85.00,373.81 L85.50,378.24 L86.00,375.59 L86.50,373.34 L87.00,370.86 L87.50,369.46 L88.00,370.22 L88.50,371.30 L89.00,372.05 L89.50,372.39 L90.00,372.97 L90.50,374.27 L91.00,376.10 L91.50,377.76 L92.00,379.16 L92.50,379.19 L93.00,379.71 L93.50,381.45 L94.00,383.85 L94.50,386.26 L95.00,386.28 L95.50,386.34 L96.00,386.62 L96.50,386.80 L97.00,386.47 L97.50,384.94 L98.00,382.48 L98.50,379.82 L99.00,378.55 L99.50,380.65 L100.00,382.74 L100.50,383.19 L101.00,383.97 L101.50,385.23 L102.00,387.37 L102.50,388.42 L103.00,388.90 L103.50,389.55 L104.00,389.85 L104.50,389.91 L105.00,389.51 L105.50,389.42 L106.00,390.32 L106.50,391.46 L107.00,392.36 L107.50,392.17 L108.00,391.41 L108.50,390.21 L109.00,390.99 L109.50,391.62 L110.00,391.59 L110.50,391.55 L111.00,390.63 L111.50,389.10 L112.00,387.60 L112.50,386.38 L113.00,385.11 L113.50,384.11 L114.00,383.79 L114.50,384.90 L115.00,386.26 L115.50,387.60 L116.00,389.84 L116.50,391.96 L117.00,393.12 L117.50,392.35 L118.00,391.31 L118.50,390.53 L119.00,390.33 L119.50,389.82 L120.00,389.17 L120.50,388.88 L121.00,390.84 L121.50,393.22 L122.00,395.44 L122.50,395.00 L123.00,390.76 L123.50,386.03 L124.00,385.98 L124.50,386.91 L125.00,388.09 L125.50,389.68 L126.00,390.64 L126.50,392.08 L127.00,393.45 L127.50,394.46 L128.00,395.34 L128.50,397.01 L129.00,396.17 L129.50,395.94 L130.00,395.61 L130.50,394.42 L131.00,392.00 L131.50,390.49 L132.00,389.14 L132.50,387.59 L133.00,387.35 L133.50,387.18 L134.00,387.48 L134.50,389.05 L135.00,391.70 L135.50,393.84 L136.00,393.28 L136.50,392.57 L137.00,391.33 L137.50,390.13 L138.00,389.27 L138.50,388.27 L139.00,388.48 L139.50,388.81 L140.00,390.72 L140.50,393.91 L141.00,394.43 L141.50,391.22 L142.00,387.61 L142.50,389.46 L143.00,391.62 L143.50,393.38 L144.00,394.47 L144.50,394.72 L145.00,395.54 L145.50,396.37 L146.00,396.69 L146.50,394.63 L147.00,392.77 L147.50,391.03 L148.00,389.25 L148.50,387.16 L149.00,388.25 L149.50,392.54 L150.00,397.45 L150.50,399.50 L151.00,397.33 L151.50,394.81 L152.00,394.38 L152.50,393.36 L153.00,392.06 L153.50,390.71 L154.00,388.47 L154.50,386.17 L155.00,387.65 L155.50,389.82 L156.00,391.45 L156.50,392.42 L157.00,393.32 L157.50,394.05 L158.00,395.77 L158.50,397.45 L159.00,399.03 L159.50,397.60 L160.00,392.32 L160.50,387.14 L161.00,381.85 L161.50,381.75 L162.00,385.72 L162.50,389.03 L163.00,389.07 L163.50,387.31 L164.00,385.20 L164.50,384.15 L165.00,384.26 L165.50,384.40 L166.00,384.49 L166.50,388.62 L167.00,393.62 L167.50,395.79 L168.00,396.32 L168.50,396.80 L169.00,397.08 L169.50,394.19 L170.00,391.44 L170.50,388.61 L171.00,393.04 L171.50,399.16 L172.00,401.94 L172.50,397.20 L173.00,392.95 L173.50,393.07 L174.00,392.97 L174.50,393.12 L175.00,392.18 L175.50,390.59 L176.00,388.87 L176.50,386.53 L177.00,384.67 L177.50,383.03 L178.00,381.99 L178.50,383.22 L179.00,384.51 L179.50,385.65 L180.00,387.91 L180.50,389.91 L181.00,392.07 L181.50,393.91 L182.00,391.71 L182.50,390.24 L183.00,388.69 L183.50,391.77 L184.00,396.84 L184.50,398.84 L185.00,398.57 L185.50,397.75 L186.00,395.59 L186.50,393.08 L187.00,390.82 L187.50,390.24 L188.00,390.19 L188.50,389.96 L189.00,389.77 L189.50,390.14 L190.00,388.52 L190.50,386.55 L191.00,385.44 L191.50,391.96 L192.00,398.41 L192.50,398.73 L193.00,396.56 L193.50,394.35 L194.00,392.93 L194.50,391.02 L195.00,389.90" fill="none" stroke="#2a3aa0" stroke-width="1.4" stroke-linejoin="round" opacity="1"/>
<path d="M26.00,305.57 L26.50,305.80 L27.00,305.93 L27.50,306.37 L28.00,306.46 L28.50,306.77 L29.00,306.83 L29.50,307.25 L30.00,308.34 L30.50,308.55 L31.00,308.80 L31.50,308.86 L32.00,309.04 L32.50,308.74 L33.00,308.53 L33.50,308.38 L34.00,308.37 L34.50,308.64 L35.00,308.53 L35.50,308.64 L36.00,309.16 L36.50,310.18 L37.00,311.69 L37.50,312.47 L38.00,312.98 L38.50,313.71 L39.00,314.78 L39.50,316.09 L40.00,317.09 L40.50,318.53 L41.00,319.62 L41.50,320.73 L42.00,322.54 L42.50,323.96 L43.00,325.64 L43.50,327.55 L44.00,329.25 L44.50,330.53 L45.00,331.37 L45.50,332.61 L46.00,334.51 L46.50,336.48 L47.00,338.06 L47.50,339.39 L48.00,339.97 L48.50,340.91 L49.00,342.24 L49.50,343.69 L50.00,345.28 L50.50,348.09 L51.00,352.31 L51.50,355.87 L52.00,355.42 L52.50,354.93 L53.00,354.35 L53.50,354.75 L54.00,356.09 L54.50,357.14 L55.00,358.08 L55.50,360.23 L56.00,362.84 L56.50,364.50 L57.00,365.89 L57.50,367.70 L58.00,369.44 L58.50,371.35 L59.00,372.95 L59.50,375.44 L60.00,379.19 L60.50,382.69 L61.00,383.46 L61.50,382.36 L62.00,384.39 L62.50,386.68 L63.00,388.36 L63.50,388.63 L64.00,389.42 L64.50,389.56 L65.00,390.69 L65.50,392.99 L66.00,394.89 L66.50,396.11 L67.00,396.49 L67.50,396.51 L68.00,397.12 L68.50,397.69 L69.00,398.51 L69.50,398.97 L70.00,399.32 L70.50,399.83 L71.00,400.26 L71.50,400.76 L72.00,401.65 L72.50,402.51 L73.00,403.03 L73.50,403.17 L74.00,403.56 L74.50,403.44 L75.00,403.28 L75.50,403.49 L76.00,403.58 L76.50,403.54 L77.00,404.00 L77.50,405.12 L78.00,406.24 L78.50,407.16 L79.00,408.08 L79.50,408.82 L80.00,408.76 L80.50,408.71 L81.00,408.41 L81.50,408.87 L82.00,408.99 L82.50,409.50 L83.00,410.61 L83.50,410.51 L84.00,409.09 L84.50,408.01 L85.00,408.12 L85.50,409.02 L86.00,409.40 L86.50,410.14 L87.00,411.37 L87.50,411.95 L88.00,412.21 L88.50,412.74 L89.00,413.69 L89.50,414.28 L90.00,414.91 L90.50,414.84 L91.00,414.77 L91.50,414.25 L92.00,412.91 L92.50,412.44 L93.00,412.20 L93.50,411.78 L94.00,412.12 L94.50,414.19 L95.00,415.53 L95.50,415.71 L96.00,415.76 L96.50,415.05 L97.00,414.30 L97.50,413.73 L98.00,413.47 L98.50,414.23 L99.00,415.60 L99.50,416.87 L100.00,416.67 L100.50,415.34 L101.00,414.02 L101.50,414.22 L102.00,414.82 L102.50,415.94 L103.00,417.72 L103.50,419.53 L104.00,417.96 L104.50,416.05 L105.00,415.23 L105.50,416.08 L106.00,416.96 L106.50,415.78 L107.00,414.17 L107.50,414.98 L108.00,416.61 L108.50,418.56 L109.00,420.32 L109.50,419.93 L110.00,418.47 L110.50,417.04 L111.00,419.12 L111.50,421.96 L112.00,421.70 L112.50,420.34 L113.00,419.53 L113.50,419.72 L114.00,419.62 L114.50,418.98 L115.00,419.99 L115.50,421.42 L116.00,422.68 L116.50,422.50 L117.00,422.04 L117.50,421.08 L118.00,421.63 L118.50,422.24 L119.00,420.13 L119.50,417.71 L120.00,417.16 L120.50,418.14 L121.00,418.63 L121.50,419.78 L122.00,421.01 L122.50,422.15 L123.00,421.91 L123.50,421.01 L124.00,420.68 L124.50,420.78 L125.00,420.94 L125.50,420.69 L126.00,421.10 L126.50,420.99 L127.00,420.60 L127.50,420.09 L128.00,420.45 L128.50,420.78 L129.00,421.48 L129.50,422.50 L130.00,423.64 L130.50,424.47 L131.00,424.18 L131.50,423.33 L132.00,422.56 L132.50,421.89 L133.00,422.21 L133.50,422.79 L134.00,423.40 L134.50,423.37 L135.00,423.54 L135.50,423.27 L136.00,423.08 L136.50,422.54 L137.00,421.99 L137.50,420.28 L138.00,418.60 L138.50,419.08 L139.00,419.23 L139.50,419.82 L140.00,421.13 L140.50,422.33 L141.00,423.59 L141.50,424.05 L142.00,424.43 L142.50,425.30 L143.00,425.80 L143.50,425.82 L144.00,425.76 L144.50,425.65 L145.00,425.58 L145.50,425.00 L146.00,424.52 L146.50,423.72 L147.00,423.21 L147.50,422.27 L148.00,421.46 L148.50,421.37 L149.00,421.31 L149.50,421.95 L150.00,422.54 L150.50,423.13 L151.00,424.47 L151.50,425.22 L152.00,426.21 L152.50,425.31 L153.00,423.69 L153.50,422.73 L154.00,421.65 L154.50,422.38 L155.00,423.79 L155.50,424.88 L156.00,425.87 L156.50,425.55 L157.00,425.05 L157.50,424.34 L158.00,424.33 L158.50,424.29 L159.00,424.02 L159.50,425.05 L160.00,425.84 L160.50,426.70 L161.00,427.14 L161.50,426.70 L162.00,426.34 L162.50,426.47 L163.00,426.02 L163.50,425.74 L164.00,424.97 L164.50,425.45 L165.00,424.87 L165.50,424.27 L166.00,423.95 L166.50,423.00 L167.00,422.97 L167.50,422.57 L168.00,422.78 L168.50,424.80 L169.00,426.87 L169.50,427.48 L170.00,428.10 L170.50,428.77 L171.00,428.71 L171.50,428.12 L172.00,427.57 L172.50,426.70 L173.00,425.60 L173.50,425.12 L174.00,424.11 L174.50,423.60 L175.00,423.17 L175.50,423.63 L176.00,424.70 L176.50,425.56 L177.00,426.25 L177.50,426.53 L178.00,426.97 L178.50,427.13 L179.00,427.14 L179.50,427.26 L180.00,427.05 L180.50,427.29 L181.00,427.87 L181.50,428.03 L182.00,427.36 L182.50,426.11 L183.00,424.63 L183.50,423.31 L184.00,425.30 L184.50,427.60 L185.00,428.62 L185.50,428.41 L186.00,428.17 L186.50,427.76 L187.00,428.18 L187.50,428.38 L188.00,428.68 L188.50,428.71 L189.00,428.51 L189.50,428.22 L190.00,428.52" fill="none" stroke="#c42d50" stroke-width="1.1" stroke-linejoin="round" opacity="1"/>
<path d="M26.00,306.92 L26.50,306.65 L27.00,306.80 L27.50,307.06 L28.00,307.00 L28.50,306.84 L29.00,306.67 L29.50,306.46 L30.00,306.55 L30.50,306.46 L31.00,306.28 L31.50,306.52 L32.00,306.54 L32.50,306.80 L33.00,306.90 L33.50,307.58 L34.00,308.32 L34.50,308.50 L35.00,308.43 L35.50,307.91 L36.00,307.76 L36.50,307.85 L37.00,307.84 L37.50,307.99 L38.00,308.43 L38.50,308.82 L39.00,309.43 L39.50,309.85 L40.00,310.62 L40.50,311.28 L41.00,311.95 L41.50,311.72 L42.00,311.63 L42.50,312.24 L43.00,313.24 L43.50,313.98 L44.00,314.61 L44.50,315.47 L45.00,315.92 L45.50,316.23 L46.00,316.52 L46.50,317.59 L47.00,318.26 L47.50,319.16 L48.00,320.33 L48.50,320.49 L49.00,321.43 L49.50,322.17 L50.00,322.51 L50.50,323.28 L51.00,323.76 L51.50,324.54 L52.00,325.34 L52.50,326.15 L53.00,327.20 L53.50,328.01 L54.00,328.78 L54.50,329.82 L55.00,330.92 L55.50,331.97 L56.00,332.20 L56.50,332.58 L57.00,332.94 L57.50,334.01 L58.00,335.40 L58.50,336.19 L59.00,337.25 L59.50,338.24 L60.00,338.63 L60.50,338.34 L61.00,337.67 L61.50,337.12 L62.00,336.24 L62.50,335.93 L63.00,336.66 L63.50,336.76 L64.00,336.45 L64.50,335.97 L65.00,335.34 L65.50,333.91 L66.00,332.65 L66.50,334.62 L67.00,336.89 L67.50,339.14 L68.00,338.43 L68.50,337.83 L69.00,337.06 L69.50,338.45 L70.00,339.35 L70.50,340.06 L71.00,339.14 L71.50,338.54 L72.00,338.70 L72.50,339.81 L73.00,340.36 L73.50,341.72 L74.00,342.44 L74.50,342.66 L75.00,343.29 L75.50,343.53 L76.00,343.23 L76.50,342.91 L77.00,342.59 L77.50,343.58 L78.00,345.14 L78.50,346.54 L79.00,346.58 L79.50,344.88 L80.00,343.83 L80.50,342.38 L81.00,341.36 L81.50,340.62 L82.00,339.33 L82.50,340.41 L83.00,342.12 L83.50,343.51 L84.00,345.41 L84.50,344.08 L85.00,342.57 L85.50,341.67 L86.00,342.48 L86.50,343.01 L87.00,343.61 L87.50,343.02 L88.00,342.70 L88.50,342.88 L89.00,344.75 L89.50,346.51 L90.00,346.76 L90.50,347.02 L91.00,346.19 L91.50,344.46 L92.00,343.05 L92.50,343.17 L93.00,343.27 L93.50,343.37 L94.00,343.38 L94.50,344.73 L95.00,346.17 L95.50,346.05 L96.00,345.24 L96.50,345.24 L97.00,345.85 L97.50,346.40 L98.00,347.21 L98.50,346.46 L99.00,346.38 L99.50,346.42 L100.00,347.29 L100.50,348.48 L101.00,349.71 L101.50,349.23 L102.00,347.90 L102.50,346.72 L103.00,346.16 L103.50,345.23 L104.00,344.33 L104.50,346.05 L105.00,348.85 L105.50,350.91 L106.00,350.26 L106.50,347.92 L107.00,346.03 L107.50,345.41 L108.00,345.89 L108.50,346.28 L109.00,346.80 L109.50,347.71 L110.00,348.37 L110.50,349.29 L111.00,349.84 L111.50,349.14 L112.00,348.05 L112.50,347.46 L113.00,346.98 L113.50,346.24 L114.00,345.42 L114.50,345.15 L115.00,345.37 L115.50,345.97 L116.00,346.69 L116.50,348.62 L117.00,350.83 L117.50,353.50 L118.00,351.21 L118.50,349.00 L119.00,347.19 L119.50,347.86 L120.00,347.83 L120.50,347.47 L121.00,347.21 L121.50,346.81 L122.00,347.28 L122.50,347.17 L123.00,347.64 L123.50,346.48 L124.00,344.54 L124.50,342.80 L125.00,343.51 L125.50,346.13 L126.00,348.98 L126.50,346.99 L127.00,345.36 L127.50,344.59 L128.00,345.73 L128.50,346.69 L129.00,346.36 L129.50,346.04 L130.00,345.73 L130.50,344.64 L131.00,344.07 L131.50,343.55 L132.00,343.38 L132.50,343.22 L133.00,342.89 L133.50,343.27 L134.00,343.38 L134.50,343.59 L135.00,344.05 L135.50,344.21 L136.00,344.47 L136.50,343.90 L137.00,343.58 L137.50,344.68 L138.00,345.76 L138.50,347.14 L139.00,348.21 L139.50,349.39 L140.00,350.07 L140.50,350.46 L141.00,350.48 L141.50,350.63 L142.00,350.99 L142.50,351.06 L143.00,350.80 L143.50,350.28 L144.00,349.53 L144.50,350.28 L145.00,351.09 L145.50,351.87 L146.00,351.98 L146.50,351.37 L147.00,351.19 L147.50,351.28 L148.00,351.59 L148.50,351.86 L149.00,351.85 L149.50,350.18 L150.00,348.32 L150.50,346.09 L151.00,344.25 L151.50,346.51 L152.00,349.08 L152.50,348.19 L153.00,347.15 L153.50,347.04 L154.00,347.96 L154.50,348.90 L155.00,349.16 L155.50,348.75 L156.00,348.70 L156.50,347.50 L157.00,346.73 L157.50,345.67 L158.00,346.08 L158.50,347.65 L159.00,349.48 L159.50,349.68 L160.00,349.74 L160.50,349.94 L161.00,350.09 L161.50,351.24 L162.00,352.55 L162.50,354.17 L163.00,354.27 L163.50,353.03 L164.00,352.19 L164.50,352.06 L165.00,351.43 L165.50,350.49 L166.00,350.85 L166.50,352.08 L167.00,353.15 L167.50,355.25 L168.00,353.05 L168.50,350.61 L169.00,348.08 L169.50,347.95 L170.00,347.81 L170.50,347.85 L171.00,352.45 L171.50,356.51 L172.00,356.52 L172.50,356.29 L173.00,355.02 L173.50,353.53 L174.00,351.84 L174.50,350.27 L175.00,349.26 L175.50,348.13 L176.00,346.60 L176.50,346.49 L177.00,348.32 L177.50,350.00 L178.00,351.78 L178.50,352.68 L179.00,353.59 L179.50,354.38 L180.00,353.93 L180.50,352.98 L181.00,352.60 L181.50,351.36 L182.00,349.93 L182.50,348.43 L183.00,347.41 L183.50,348.69 L184.00,350.25 L184.50,351.69 L185.00,353.17 L185.50,352.09 L186.00,350.96 L186.50,350.72 L187.00,350.86 L187.50,350.93 L188.00,350.96 L188.50,350.67 L189.00,349.13 L189.50,347.58 L190.00,347.42 L190.50,349.25 L191.00,350.24 L191.50,348.90 L192.00,347.89 L192.50,348.40 L193.00,348.93 L193.50,349.67 L194.00,350.09 L194.50,351.17 L195.00,352.17" fill="none" stroke="#4f8a5e" stroke-width="1.1" stroke-linejoin="round" opacity="1"/>
<path d="M33.6,282 L35.3,288.5" stroke="#1f3aa0" stroke-width="2.4" stroke-linecap="round"/>
<path d="M35.5,295 L35.5,303" stroke="#1f3aa0" stroke-width="2.2" stroke-linecap="round"/>
<circle cx="29.2" cy="292" r="1.1" fill="#d0303a"/>
<circle cx="36.3" cy="288.8" r="0.9" fill="#3a8a50"/>
<text x="83.40" y="339.70" font-size="11.5" font-weight="bold" text-anchor="middle" textLength="4.8" lengthAdjust="spacingAndGlyphs" fill="#2f6a4a" stroke="#2f6a4a" stroke-width="0.5">2</text>
<text x="83.40" y="386.90" font-size="11" font-weight="bold" text-anchor="middle" textLength="4.2" lengthAdjust="spacingAndGlyphs" fill="#3050c0" stroke="#3050c0" stroke-width="0.45">3</text>
<text x="83.40" y="369.70" font-size="11" font-weight="bold" text-anchor="middle" textLength="4.6" lengthAdjust="spacingAndGlyphs" fill="#1a2080" stroke="#1a2080" stroke-width="0.6">4</text>
<text x="83.40" y="403.60" font-size="11" font-weight="bold" text-anchor="middle" textLength="3.6" lengthAdjust="spacingAndGlyphs" fill="#c42d50" stroke="#c42d50" stroke-width="0.45">1</text>
<text x="139.80" y="344.50" font-size="11.5" font-weight="bold" text-anchor="middle" textLength="4.8" lengthAdjust="spacingAndGlyphs" fill="#2f6a4a" stroke="#2f6a4a" stroke-width="0.5">2</text>
<text x="139.80" y="386.60" font-size="11" font-weight="bold" text-anchor="middle" textLength="4.2" lengthAdjust="spacingAndGlyphs" fill="#3050c0" stroke="#3050c0" stroke-width="0.45">3</text>
<text x="139.80" y="380.70" font-size="11" font-weight="bold" text-anchor="middle" textLength="4.6" lengthAdjust="spacingAndGlyphs" fill="#1a2080" stroke="#1a2080" stroke-width="0.6">4</text>
<text x="139.80" y="413.50" font-size="11" font-weight="bold" text-anchor="middle" textLength="3.6" lengthAdjust="spacingAndGlyphs" fill="#c42d50" stroke="#c42d50" stroke-width="0.45">1</text>
<text x="194.00" y="346.90" font-size="11.5" font-weight="bold" text-anchor="middle" textLength="4.8" lengthAdjust="spacingAndGlyphs" fill="#2f6a4a" stroke="#2f6a4a" stroke-width="0.5">2</text>
<text x="194.00" y="385.90" font-size="11" font-weight="bold" text-anchor="middle" textLength="4.2" lengthAdjust="spacingAndGlyphs" fill="#3050c0" stroke="#3050c0" stroke-width="0.45">3</text>
<text x="194.00" y="379.40" font-size="11" font-weight="bold" text-anchor="middle" textLength="4.6" lengthAdjust="spacingAndGlyphs" fill="#1a2080" stroke="#1a2080" stroke-width="0.6">4</text>
<text x="200.20" y="62.00" font-size="9.5" textLength="40.80" lengthAdjust="spacingAndGlyphs" fill="#231f20" stroke="#231f20" stroke-width="0.2">C1D1 (5%)</text>
<text x="200.20" y="83.50" font-size="9.5" textLength="45.70" lengthAdjust="spacingAndGlyphs" fill="#231f20" stroke="#231f20" stroke-width="0.2">C2D1 (12%)</text>
<text x="200.20" y="111.60" font-size="9.5" textLength="45.30" lengthAdjust="spacingAndGlyphs" fill="#231f20" stroke="#231f20" stroke-width="0.2">C3D1 (33%)</text>
<text x="200.20" y="133.00" font-size="9.5" textLength="36.70" lengthAdjust="spacingAndGlyphs" fill="#231f20" stroke="#231f20" stroke-width="0.2">Pre (48%)</text>
<text x="199.50" y="342.90" font-size="9.5" textLength="44.50" lengthAdjust="spacingAndGlyphs" fill="#231f20" stroke="#231f20" stroke-width="0.2">C1D1 (30%)</text>
<text x="199.50" y="385.30" font-size="9.5" textLength="44.50" lengthAdjust="spacingAndGlyphs" fill="#231f20" stroke="#231f20" stroke-width="0.2">C2D1 (43%)</text>
<text x="199.50" y="404.00" font-size="9.5" textLength="44.50" lengthAdjust="spacingAndGlyphs" fill="#231f20" stroke="#231f20" stroke-width="0.2">C3D1 (45%)</text>
<text x="199.50" y="431.00" font-size="9.5" textLength="36.70" lengthAdjust="spacingAndGlyphs" fill="#231f20" stroke="#231f20" stroke-width="0.2">Pre (77%)</text>
<text x="52.75" y="223.50" font-size="8.5" text-anchor="middle" fill="#231f20" stroke="#231f20" stroke-width="0.2">1</text>
<text x="53.50" y="476.70" font-size="8.5" text-anchor="middle" fill="#231f20" stroke="#231f20" stroke-width="0.2">1</text>
<text x="80.00" y="223.50" font-size="8.5" text-anchor="middle" fill="#231f20" stroke="#231f20" stroke-width="0.2">2</text>
<text x="81.00" y="476.70" font-size="8.5" text-anchor="middle" fill="#231f20" stroke="#231f20" stroke-width="0.2">2</text>
<text x="107.25" y="223.50" font-size="8.5" text-anchor="middle" fill="#231f20" stroke="#231f20" stroke-width="0.2">3</text>
<text x="108.50" y="476.70" font-size="8.5" text-anchor="middle" fill="#231f20" stroke="#231f20" stroke-width="0.2">3</text>
<text x="134.50" y="223.50" font-size="8.5" text-anchor="middle" fill="#231f20" stroke="#231f20" stroke-width="0.2">4</text>
<text x="136.00" y="476.70" font-size="8.5" text-anchor="middle" fill="#231f20" stroke="#231f20" stroke-width="0.2">4</text>
<text x="161.75" y="223.50" font-size="8.5" text-anchor="middle" fill="#231f20" stroke="#231f20" stroke-width="0.2">5</text>
<text x="163.50" y="476.70" font-size="8.5" text-anchor="middle" fill="#231f20" stroke="#231f20" stroke-width="0.2">5</text>
<text x="189.00" y="223.50" font-size="8.5" text-anchor="middle" fill="#231f20" stroke="#231f20" stroke-width="0.2">6</text>
<text x="191.00" y="476.70" font-size="8.5" text-anchor="middle" fill="#231f20" stroke="#231f20" stroke-width="0.2">6</text>
<text x="85.60" y="238.80" font-size="11" textLength="49.30" lengthAdjust="spacingAndGlyphs" fill="#231f20" stroke="#231f20" stroke-width="0.2">Time (min)</text>
<text x="85.40" y="491.50" font-size="11" textLength="49.20" lengthAdjust="spacingAndGlyphs" fill="#231f20" stroke="#231f20" stroke-width="0.2">Time (min)</text>
<text x="0" y="0" font-size="11" text-anchor="middle" textLength="107" lengthAdjust="spacingAndGlyphs" fill="#231f20" stroke="#231f20" stroke-width="0.2" transform="translate(18.50,119.00) rotate(-90)">% platelet aggregation</text>
<text x="0" y="0" font-size="11" text-anchor="middle" textLength="107" lengthAdjust="spacingAndGlyphs" fill="#231f20" stroke="#231f20" stroke-width="0.2" transform="translate(18.50,370.40) rotate(-90)">% platelet aggregation</text>
<text x="0" y="0" font-size="11" text-anchor="middle" textLength="107" lengthAdjust="spacingAndGlyphs" fill="#231f20" stroke="#231f20" stroke-width="0.2" transform="translate(278.60,122.90) rotate(-90)">% platelet aggregation</text>
<rect x="304.90" y="70.32" width="17.80" height="138.38" fill="#3d4353" stroke="#111" stroke-width="1"/>
<rect x="322.70" y="196.40" width="17.80" height="12.30" fill="#62a13e" stroke="#111" stroke-width="1"/>
<rect x="340.50" y="119.52" width="17.90" height="89.18" fill="#a3b276" stroke="#111" stroke-width="1"/>
<rect x="358.40" y="150.27" width="17.50" height="58.43" fill="#b9b8bc" stroke="#111" stroke-width="1"/>
<rect x="394.00" y="61.10" width="17.70" height="147.60" fill="#3d4353" stroke="#111" stroke-width="1"/>
<rect x="411.70" y="193.32" width="17.70" height="15.38" fill="#62a13e" stroke="#111" stroke-width="1"/>
<rect x="429.40" y="171.80" width="17.90" height="36.90" fill="#a3b276" stroke="#111" stroke-width="1"/>
<rect x="447.30" y="107.22" width="18.00" height="101.48" fill="#b9b8bc" stroke="#111" stroke-width="1"/>
<line x1="300.5" y1="38.80" x2="300.5" y2="208.70" stroke="#111" stroke-width="1.1"/>
<line x1="300.0" y1="208.70" x2="471" y2="208.70" stroke="#111" stroke-width="1.1"/>
<line x1="297" y1="208.70" x2="300.5" y2="208.70" stroke="#111" stroke-width="1"/>
<text x="293.60" y="212.00" font-size="9.2" text-anchor="end" fill="#231f20" stroke="#231f20" stroke-width="0.2">0</text>
<line x1="297" y1="177.95" x2="300.5" y2="177.95" stroke="#111" stroke-width="1"/>
<text x="293.60" y="181.25" font-size="9.2" text-anchor="end" fill="#231f20" stroke="#231f20" stroke-width="0.2">10</text>
<line x1="297" y1="147.20" x2="300.5" y2="147.20" stroke="#111" stroke-width="1"/>
<text x="293.60" y="150.50" font-size="9.2" text-anchor="end" fill="#231f20" stroke="#231f20" stroke-width="0.2">20</text>
<line x1="297" y1="116.45" x2="300.5" y2="116.45" stroke="#111" stroke-width="1"/>
<text x="293.60" y="119.75" font-size="9.2" text-anchor="end" fill="#231f20" stroke="#231f20" stroke-width="0.2">30</text>
<line x1="297" y1="85.70" x2="300.5" y2="85.70" stroke="#111" stroke-width="1"/>
<text x="293.60" y="89.00" font-size="9.2" text-anchor="end" fill="#231f20" stroke="#231f20" stroke-width="0.2">40</text>
<line x1="297" y1="54.95" x2="300.5" y2="54.95" stroke="#111" stroke-width="1"/>
<text x="293.60" y="58.25" font-size="9.2" text-anchor="end" fill="#231f20" stroke="#231f20" stroke-width="0.2">50</text>
<line x1="340.50" y1="208.70" x2="340.50" y2="212.50" stroke="#111" stroke-width="1"/>
<text x="340.50" y="223.80" font-size="9.2" text-anchor="middle" fill="#231f20" stroke="#231f20" stroke-width="0.2">8</text>
<line x1="429.40" y1="208.70" x2="429.40" y2="212.50" stroke="#111" stroke-width="1"/>
<text x="429.40" y="223.80" font-size="9.2" text-anchor="middle" fill="#231f20" stroke="#231f20" stroke-width="0.2">9</text>
<text x="369.50" y="239.50" font-size="11" textLength="32.20" lengthAdjust="spacingAndGlyphs" fill="#231f20" stroke="#231f20" stroke-width="0.2">Patient</text>
<rect x="467.00" y="50.60" width="12.6" height="8.2" fill="#3d4353" stroke="#111" stroke-width="1"/>
<text x="482.90" y="57.90" font-size="9.0" textLength="12.00" lengthAdjust="spacingAndGlyphs" fill="#231f20" stroke="#231f20" stroke-width="0.2">Pre</text>
<rect x="467.00" y="63.20" width="12.6" height="8.2" fill="#62a13e" stroke="#111" stroke-width="1"/>
<text x="482.90" y="70.50" font-size="9.0" textLength="24.70" lengthAdjust="spacingAndGlyphs" fill="#231f20" stroke="#231f20" stroke-width="0.2">Cycle 1</text>
<rect x="467.00" y="75.80" width="12.6" height="8.2" fill="#a3b276" stroke="#111" stroke-width="1"/>
<text x="482.90" y="83.10" font-size="9.0" textLength="24.70" lengthAdjust="spacingAndGlyphs" fill="#231f20" stroke="#231f20" stroke-width="0.2">Cycle 2</text>
<rect x="467.00" y="88.40" width="12.6" height="8.2" fill="#b9b8bc" stroke="#111" stroke-width="1"/>
<text x="482.90" y="95.70" font-size="9.0" textLength="24.70" lengthAdjust="spacingAndGlyphs" fill="#231f20" stroke="#231f20" stroke-width="0.2">Cycle 3</text>
<rect x="304.90" y="313.02" width="17.80" height="148.28" fill="#3d4353" stroke="#111" stroke-width="1"/>
<rect x="322.70" y="378.71" width="17.80" height="82.59" fill="#62a13e" stroke="#111" stroke-width="1"/>
<rect x="340.50" y="314.89" width="17.90" height="146.41" fill="#a3b276" stroke="#111" stroke-width="1"/>
<rect x="358.40" y="373.08" width="17.50" height="88.22" fill="#b9b8bc" stroke="#111" stroke-width="1"/>
<rect x="394.00" y="316.77" width="17.70" height="144.53" fill="#3d4353" stroke="#111" stroke-width="1"/>
<rect x="411.70" y="404.99" width="17.70" height="56.31" fill="#62a13e" stroke="#111" stroke-width="1"/>
<rect x="429.40" y="380.59" width="17.90" height="80.71" fill="#a3b276" stroke="#111" stroke-width="1"/>
<rect x="447.30" y="376.84" width="18.00" height="84.46" fill="#b9b8bc" stroke="#111" stroke-width="1"/>
<line x1="300.5" y1="291.40" x2="300.5" y2="461.30" stroke="#111" stroke-width="1.1"/>
<line x1="300.0" y1="461.30" x2="471" y2="461.30" stroke="#111" stroke-width="1.1"/>
<line x1="297" y1="461.30" x2="300.5" y2="461.30" stroke="#111" stroke-width="1"/>
<text x="293.60" y="464.60" font-size="9.2" text-anchor="end" fill="#231f20" stroke="#231f20" stroke-width="0.2">0</text>
<line x1="297" y1="423.76" x2="300.5" y2="423.76" stroke="#111" stroke-width="1"/>
<text x="293.60" y="427.06" font-size="9.2" text-anchor="end" fill="#231f20" stroke="#231f20" stroke-width="0.2">20</text>
<line x1="297" y1="386.22" x2="300.5" y2="386.22" stroke="#111" stroke-width="1"/>
<text x="293.60" y="389.52" font-size="9.2" text-anchor="end" fill="#231f20" stroke="#231f20" stroke-width="0.2">40</text>
<line x1="297" y1="348.68" x2="300.5" y2="348.68" stroke="#111" stroke-width="1"/>
<text x="293.60" y="351.98" font-size="9.2" text-anchor="end" fill="#231f20" stroke="#231f20" stroke-width="0.2">60</text>
<line x1="297" y1="311.14" x2="300.5" y2="311.14" stroke="#111" stroke-width="1"/>
<text x="293.60" y="314.44" font-size="9.2" text-anchor="end" fill="#231f20" stroke="#231f20" stroke-width="0.2">80</text>
<line x1="340.50" y1="461.30" x2="340.50" y2="465.10" stroke="#111" stroke-width="1"/>
<text x="340.50" y="476.80" font-size="9.2" text-anchor="middle" fill="#231f20" stroke="#231f20" stroke-width="0.2">8</text>
<line x1="429.40" y1="461.30" x2="429.40" y2="465.10" stroke="#111" stroke-width="1"/>
<text x="429.40" y="476.80" font-size="9.2" text-anchor="middle" fill="#231f20" stroke="#231f20" stroke-width="0.2">9</text>
<text x="369.50" y="492.00" font-size="11" textLength="32.20" lengthAdjust="spacingAndGlyphs" fill="#231f20" stroke="#231f20" stroke-width="0.2">Patient</text>
<rect x="462.60" y="311.10" width="12.6" height="8.2" fill="#3d4353" stroke="#111" stroke-width="1"/>
<text x="478.40" y="318.40" font-size="9.0" textLength="12.00" lengthAdjust="spacingAndGlyphs" fill="#231f20" stroke="#231f20" stroke-width="0.2">Pre</text>
<rect x="462.60" y="323.70" width="12.6" height="8.2" fill="#62a13e" stroke="#111" stroke-width="1"/>
<text x="478.40" y="331.00" font-size="9.0" textLength="24.70" lengthAdjust="spacingAndGlyphs" fill="#231f20" stroke="#231f20" stroke-width="0.2">Cycle 1</text>
<rect x="462.60" y="336.30" width="12.6" height="8.2" fill="#a3b276" stroke="#111" stroke-width="1"/>
<text x="478.40" y="343.60" font-size="9.0" textLength="24.70" lengthAdjust="spacingAndGlyphs" fill="#231f20" stroke="#231f20" stroke-width="0.2">Cycle 2</text>
<rect x="462.60" y="348.90" width="12.6" height="8.2" fill="#b9b8bc" stroke="#111" stroke-width="1"/>
<text x="478.40" y="356.20" font-size="9.0" textLength="24.70" lengthAdjust="spacingAndGlyphs" fill="#231f20" stroke="#231f20" stroke-width="0.2">Cycle 3</text>
<text x="0" y="0" font-size="11" text-anchor="middle" textLength="107" lengthAdjust="spacingAndGlyphs" fill="#231f20" stroke="#231f20" stroke-width="0.2" transform="translate(278.60,373.00) rotate(-90)">% platelet aggregation</text>
<rect x="0" y="0" width="520" height="1.2" fill="#222"/>
<rect x="0" y="0" width="1.15" height="503" fill="#000"/>
<rect x="517.8" y="0" width="2.2" height="503" fill="#222"/>
<rect x="0" y="500.6" width="520" height="2.4" fill="#222"/>
</svg></body></html>
